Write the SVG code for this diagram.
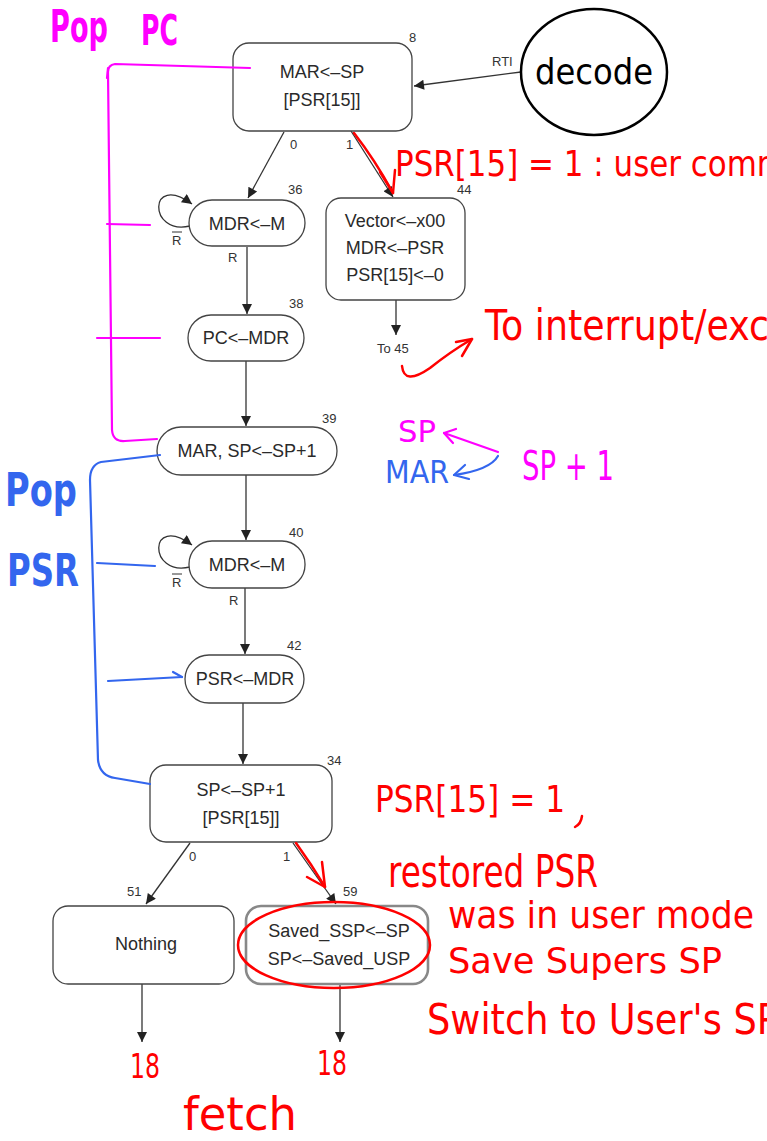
<svg xmlns="http://www.w3.org/2000/svg" width="767" height="1141" viewBox="0 0 767 1141">
  <style>
    .box { fill: #fff; stroke: #444; stroke-width: 1.3; }
    .t { font-family: "Liberation Sans", Arial, sans-serif; font-size: 18px; fill: #2a2a2a; text-anchor: middle; }
    .n { font-family: "Liberation Sans", Arial, sans-serif; font-size: 13px; fill: #333; }
    .lbl { font-family: "Liberation Sans", Arial, sans-serif; font-size: 13px; fill: #333; }
    .edge { fill: none; stroke: #333; stroke-width: 1.3; }
    .hand { font-family: "DejaVu Sans", sans-serif; }
    .red { fill: #ff0000; }
    .pink { fill: #ff00ff; }
    .blue { fill: #3366ee; }
    .rs { fill: none; stroke: #ff0000; stroke-width: 2.5; stroke-linecap: round; stroke-linejoin: round; }
    .ps { fill: none; stroke: #ff00ff; stroke-width: 2.2; stroke-linecap: round; stroke-linejoin: round; }
    .bs { fill: none; stroke: #3366ee; stroke-width: 2.2; stroke-linecap: round; stroke-linejoin: round; }
  </style>
  <defs>
    <marker id="ah" viewBox="0 0 10 10" refX="10" refY="5" markerWidth="14" markerHeight="10" markerUnits="userSpaceOnUse" orient="auto">
      <path d="M0,0 L10,5 L0,10 z" fill="#222"/>
    </marker>
  </defs>

  <rect width="767" height="1141" fill="#fff"/>

  <!-- state machine connectors -->
  <g id="connectors">
    <line class="edge" x1="521" y1="72" x2="414" y2="86" marker-end="url(#ah)"/>
    <text class="n" x="492" y="66">RTI</text>
    <line class="edge" x1="284" y1="132" x2="248" y2="198" marker-end="url(#ah)"/>
    <text class="lbl" x="290" y="149">0</text>
    <line class="edge" x1="351" y1="131" x2="393" y2="197" marker-end="url(#ah)"/>
    <text class="lbl" x="346" y="149">1</text>
    <path class="edge" d="M190 226 C 148 236, 148 172, 192 204" marker-end="url(#ah)"/>
    <line class="edge" x1="247" y1="247" x2="247" y2="314" marker-end="url(#ah)"/>
    <line class="edge" x1="396" y1="300" x2="396" y2="335" marker-end="url(#ah)"/>
    <text class="lbl" x="377" y="353">To 45</text>
    <line class="edge" x1="246" y1="361" x2="246" y2="426" marker-end="url(#ah)"/>
    <line class="edge" x1="246" y1="475" x2="246" y2="540" marker-end="url(#ah)"/>
    <path class="edge" d="M190 567 C 148 577, 148 513, 192 545" marker-end="url(#ah)"/>
    <line class="edge" x1="245" y1="588" x2="245" y2="654" marker-end="url(#ah)"/>
    <line class="edge" x1="243" y1="703" x2="243" y2="764" marker-end="url(#ah)"/>
    <line class="edge" x1="190" y1="843" x2="146" y2="904" marker-end="url(#ah)"/>
    <text class="lbl" x="189" y="861">0</text>
    <line class="edge" x1="293" y1="843" x2="336" y2="904" marker-end="url(#ah)"/>
    <text class="lbl" x="283" y="861">1</text>
    <line class="edge" x1="142" y1="984" x2="142" y2="1042" marker-end="url(#ah)"/>
    <line class="edge" x1="340" y1="984" x2="340" y2="1042" marker-end="url(#ah)"/>
  </g>

  <!-- states -->
  <g id="s8">
    <rect class="box" x="233" y="43" width="179" height="88" rx="16"/>
    <text class="t" x="322" y="78">MAR&lt;–SP</text>
    <text class="t" x="322" y="106">[PSR[15]]</text>
    <text class="n" x="409" y="42">8</text>
  </g>
  <g id="decode">
    <ellipse cx="594" cy="72" rx="73" ry="63" fill="#fff" stroke="#000" stroke-width="2.5"/>
    <text class="hand" x="594" y="84" font-size="36" text-anchor="middle" fill="#000" textLength="118" lengthAdjust="spacingAndGlyphs">decode</text>
  </g>
  <g id="s36">
    <rect class="box" x="189" y="200" width="116" height="46" rx="23"/>
    <text class="t" x="247" y="230">MDR&lt;–M</text>
    <text class="n" x="288" y="194">36</text>
    <text class="lbl" x="172" y="245">R</text>
    <line x1="172" y1="232" x2="182" y2="232" stroke="#333" stroke-width="1"/>
    <text class="lbl" x="228" y="262">R</text>
  </g>
  <g id="s44">
    <rect class="box" x="326" y="198" width="139" height="102" rx="15"/>
    <text class="t" x="395" y="227">Vector&lt;–x00</text>
    <text class="t" x="395" y="254">MDR&lt;–PSR</text>
    <text class="t" x="395" y="281">PSR[15]&lt;–0</text>
    <text class="n" x="457" y="194">44</text>
  </g>
  <g id="s38">
    <rect class="box" x="188" y="315" width="116" height="46" rx="23"/>
    <text class="t" x="246" y="344">PC&lt;–MDR</text>
    <text class="n" x="289" y="308">38</text>
  </g>
  <g id="s39">
    <rect class="box" x="157" y="427" width="180" height="48" rx="24"/>
    <text class="t" x="247" y="457">MAR, SP&lt;–SP+1</text>
    <text class="n" x="322" y="423">39</text>
  </g>
  <g id="s40">
    <rect class="box" x="189" y="541" width="116" height="47" rx="23"/>
    <text class="t" x="247" y="571">MDR&lt;–M</text>
    <text class="n" x="289" y="537">40</text>
    <text class="lbl" x="172" y="587">R</text>
    <line x1="172" y1="574" x2="182" y2="574" stroke="#333" stroke-width="1"/>
    <text class="lbl" x="229" y="605">R</text>
  </g>
  <g id="s42">
    <rect class="box" x="185" y="655" width="119" height="48" rx="24"/>
    <text class="t" x="245" y="685">PSR&lt;–MDR</text>
    <text class="n" x="287" y="650">42</text>
  </g>
  <g id="s34">
    <rect class="box" x="150" y="765" width="182" height="77" rx="16"/>
    <text class="t" x="241" y="796">SP&lt;–SP+1</text>
    <text class="t" x="241" y="824">[PSR[15]]</text>
    <text class="n" x="327" y="765">34</text>
  </g>
  <g id="s51">
    <rect class="box" x="53" y="906" width="181" height="78" rx="15"/>
    <text class="t" x="146" y="950">Nothing</text>
    <text class="n" x="127" y="896">51</text>
  </g>
  <g id="s59">
    <rect x="246" y="906" width="182" height="78" rx="15" fill="#fff" stroke="#888" stroke-width="2.6"/>
    <text class="t" x="339" y="937">Saved_SSP&lt;–SP</text>
    <text class="t" x="339" y="965">SP&lt;–Saved_USP</text>
    <text class="n" x="343" y="896">59</text>
  </g>

  <!-- red pen notes -->
  <g id="red-notes">
    <path class="rs" d="M354 133 Q 375 160 393 193"/>
    <path class="rs" d="M380 172 L393 193 L395 170"/>
    <text class="hand red" x="395" y="176" font-size="36" textLength="392" lengthAdjust="spacingAndGlyphs">PSR[15] = 1 : user comm</text>
    <text class="hand red" x="485" y="340" font-size="42" textLength="284" lengthAdjust="spacingAndGlyphs">To interrupt/exc</text>
    <path class="rs" d="M402 366 Q 404 386 430 368 Q 450 352 472 339"/>
    <path class="rs" d="M456 342 L472 339 L462 356"/>
    <path class="rs" d="M296 843 Q 312 865 325 887"/>
    <path class="rs" d="M307 877 L325 887 L322 862"/>
    <ellipse cx="334" cy="945" rx="96" ry="43" class="rs"/>
    <text class="hand red" x="375" y="812" font-size="38" textLength="190" lengthAdjust="spacingAndGlyphs">PSR[15] = 1</text>
    <path class="rs" d="M582 816 Q 581 824 575 827"/>
    <text class="hand red" x="388" y="887" font-size="44" textLength="210" lengthAdjust="spacingAndGlyphs">restored PSR</text>
    <text class="hand red" x="448" y="928" font-size="38" textLength="306" lengthAdjust="spacingAndGlyphs">was in user mode</text>
    <text class="hand red" x="448" y="973" font-size="36" textLength="274" lengthAdjust="spacingAndGlyphs">Save Supers SP</text>
    <text class="hand red" x="427" y="1034" font-size="42" textLength="352" lengthAdjust="spacingAndGlyphs">Switch to User's SP</text>
    <text class="hand red" x="130" y="1078" font-size="34" textLength="30" lengthAdjust="spacingAndGlyphs">18</text>
    <text class="hand red" x="317" y="1075" font-size="34" textLength="30" lengthAdjust="spacingAndGlyphs">18</text>
    <text class="hand red" x="183" y="1130" font-size="46" textLength="114" lengthAdjust="spacingAndGlyphs">fetch</text>
  </g>

  <!-- pink pen notes: pop PC -->
  <g id="pink-notes">
    <text class="hand pink" x="50" y="42" font-size="44" font-weight="bold" textLength="58" lengthAdjust="spacingAndGlyphs">Pop</text>
    <text class="hand pink" x="141" y="45" font-size="42" font-weight="bold" textLength="37" lengthAdjust="spacingAndGlyphs">PC</text>
    <path class="ps" d="M250 68 L115 64 Q 108 65 108 72 L112 430 Q 113 442 125 441 L157 439"/>
    <path class="ps" d="M107 224 L150 225"/>
    <path class="ps" d="M97 338 L160 338"/>
    <path class="ps" d="M108 68 L107 78"/>
    <text class="hand pink" x="398" y="442" font-size="30" textLength="38" lengthAdjust="spacingAndGlyphs">SP</text>
    <text class="hand pink" x="522" y="480" font-size="40" textLength="92" lengthAdjust="spacingAndGlyphs">SP + 1</text>
    <path class="ps" d="M498 452 L444 433"/>
    <path class="ps" d="M456 429 L444 433 L453 443"/>
  </g>

  <!-- blue pen notes: pop PSR -->
  <g id="blue-notes">
    <text class="hand blue" x="5" y="506" font-size="46" font-weight="bold" textLength="72" lengthAdjust="spacingAndGlyphs">Pop</text>
    <text class="hand blue" x="7" y="586" font-size="44" font-weight="bold" textLength="72" lengthAdjust="spacingAndGlyphs">PSR</text>
    <text class="hand blue" x="385" y="483" font-size="32" textLength="64" lengthAdjust="spacingAndGlyphs">MAR</text>
    <path class="bs" d="M498 456 Q 490 470 454 475"/>
    <path class="bs" d="M465 465 L454 475 L469 479"/>
    <path class="bs" d="M160 455 L101 462 Q 90 465 90 480 L98 760 Q 100 776 115 778 L150 784"/>
    <path class="bs" d="M97 563 L155 566"/>
    <path class="bs" d="M108 681 L182 677"/>
    <path class="bs" d="M173 672 L182 677"/>
  </g>
</svg>
